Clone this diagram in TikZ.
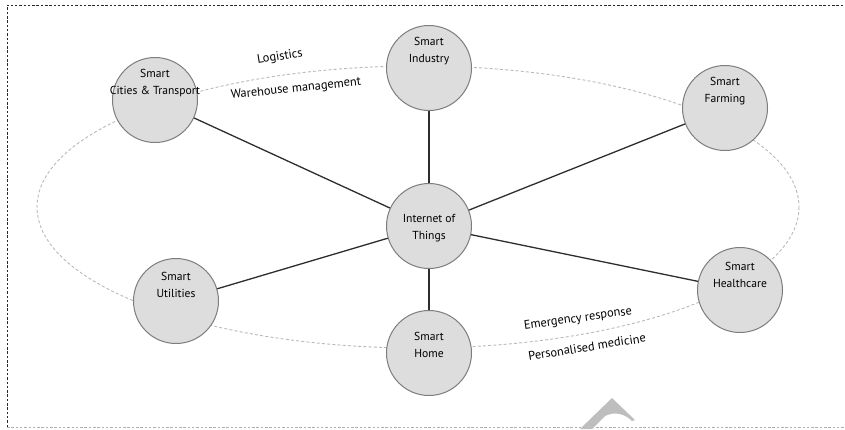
\documentclass[tikz,border=0pt]{standalone}
\usepackage{fontspec}
\setmainfont{PT Sans}
\definecolor{hubfill}{RGB}{221,221,221}
\definecolor{rimgrey}{RGB}{125,125,125}
\definecolor{spokegrey}{RGB}{45,45,45}
\definecolor{ringgrey}{RGB}{185,185,185}
\definecolor{framedark}{RGB}{40,40,40}
\definecolor{framelight}{RGB}{175,175,175}
\definecolor{markgrey}{RGB}{190,190,190}
\begin{document}
\begin{tikzpicture}[x=1pt,y=-1pt,
  hub/.style={circle, draw=rimgrey, fill=hubfill, line width=1pt,
    minimum size=85pt, inner sep=0pt},
  spoke/.style={draw=spokegrey, line width=1.3pt},
  ring/.style={draw=ringgrey, dash pattern=on 3pt off 2.2pt, line width=0.9pt},
  caption/.style={font=\fontsize{11.6}{16.5}\selectfont, align=center,
    inner sep=0pt, text=black},
  flowtext/.style={font=\fontsize{12.4}{14}\selectfont, inner sep=0pt, text=black},
  framedash/.style={dash pattern=on 2.5pt off 1.8pt, line width=0.8pt}]
\useasboundingbox (0,0) rectangle (845,429);

% frame
\draw[framedash, draw=framedark] (7,427) -- (7,5) -- (845,5);
\draw[framedash, draw=framelight] (7,427) -- (845,427);

% faint mark at the bottom edge
\fill[markgrey] (580,429) -- (612,398) -- (635,420) -- (632,421)
  .. controls (625,414) and (615,411) .. (605,416) -- (592,429) -- cycle;

% dashed orbit
\draw[ring] (418,207) ellipse [x radius=381, y radius=141];

% domain circles
\node[hub] (iot)      at (429,226) {};
\node[hub] (cities)   at (155,100) {};
\node[hub] (industry) at (429,68)  {};
\node[hub] (farming)  at (725,108) {};
\node[hub] (health)   at (740,290) {};
\node[hub] (util)     at (176,301) {};
\node[hub] (home)     at (429,353) {};

% spokes
\foreach \n in {cities,industry,farming,health,util,home}
  \draw[spoke] (iot) -- (\n);

% circle captions
\node[caption] (iott) at ([yshift=-2]iot.center) {Internet of\\Things};
\node[caption] (citiest)   at ([yshift=17]cities.center)   {Smart\\Cities \& Transport};
\node[caption] (industryt) at ([yshift=17]industry.center) {Smart\\Industry};
\node[caption] (farmingt)  at ([yshift=17]farming.center)  {Smart\\Farming};
\node[caption] (healtht)   at ([yshift=15]health.center)   {Smart\\Healthcare};
\node[caption] (utilt)     at ([yshift=16]util.center)     {Smart\\Utilities};
\node[caption] (homet)     at ([yshift=8]home.center)      {Smart\\Home};

% flow labels along the orbit
\node[flowtext, rotate=9] (logi) at (280,57)  {Logistics};
\node[flowtext, rotate=6] (ware) at (296,89)  {Warehouse management};
\node[flowtext, rotate=8] (emer) at (578,319) {Emergency response};
\node[flowtext, rotate=9] (pers) at (587,347) {Personalised medicine};
\end{tikzpicture}
\end{document}
